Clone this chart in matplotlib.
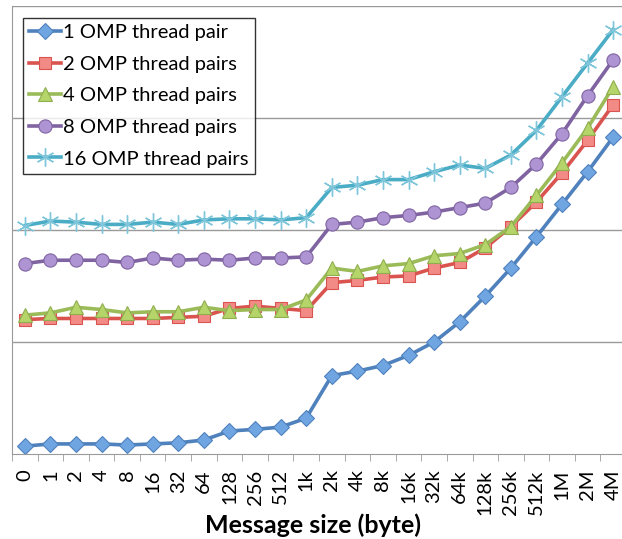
import matplotlib
matplotlib.use('Agg')
import matplotlib.pyplot as plt
import numpy as np

plt.rcParams['font.family'] = ['Lato', 'DejaVu Sans']

sizes = ['0', '1', '2', '4', '8', '16', '32', '64', '128', '256', '512', '1k',
         '2k', '4k', '8k', '16k', '32k', '64k', '128k', '256k', '512k', '1M', '2M', '4M']

# values (no y labels shown, arbitrary units)
pair1 = [0.07, 0.09, 0.09, 0.09, 0.08, 0.09, 0.10, 0.125, 0.205, 0.22, 0.24, 0.32,
         0.70, 0.74, 0.79, 0.88, 1.00, 1.18, 1.41, 1.66, 1.94, 2.23, 2.52, 2.83]
pairs2 = [1.20, 1.21, 1.21, 1.21, 1.21, 1.21, 1.22, 1.23, 1.30, 1.32, 1.30, 1.28,
          1.53, 1.55, 1.58, 1.59, 1.66, 1.71, 1.84, 2.03, 2.25, 2.51, 2.80, 3.12]
pairs4 = [1.24, 1.26, 1.31, 1.29, 1.26, 1.27, 1.27, 1.31, 1.28, 1.29, 1.29, 1.375,
          1.66, 1.63, 1.68, 1.70, 1.77, 1.79, 1.87, 2.03, 2.31, 2.60, 2.91, 3.28]
pairs8 = [1.70, 1.73, 1.73, 1.73, 1.71, 1.75, 1.73, 1.74, 1.73, 1.75, 1.75, 1.76,
          2.05, 2.07, 2.11, 2.13, 2.16, 2.20, 2.24, 2.38, 2.59, 2.86, 3.20, 3.52]
pairs16 = [2.04, 2.08, 2.07, 2.05, 2.05, 2.07, 2.05, 2.09, 2.10, 2.10, 2.09, 2.11,
           2.38, 2.40, 2.45, 2.45, 2.52, 2.58, 2.55, 2.67, 2.89, 3.19, 3.49, 3.79]

labels = ['1 OMP thread pair', '2 OMP thread pairs', '4 OMP thread pairs',
          '8 OMP thread pairs', '16 OMP thread pairs']

fig = plt.figure(figsize=(6.22, 5.39), dpi=100)
ax = fig.add_axes([12 / 622, 85 / 539, 614 / 622, 448 / 539])

x = np.arange(len(sizes))
ax.plot(x, pair1, color='#4F81BD', lw=2.6, marker='D', ms=8.5,
        mfc='#6FA6E2', mec='#4F81BD', mew=0.8, label=labels[0])
ax.plot(x, pairs2, color='#D9534F', lw=2.6, marker='s', ms=8.5,
        mfc='#F28B86', mec='#D9534F', mew=0.8, label=labels[1])
ax.plot(x, pairs4, color='#9BBB59', lw=2.6, marker='^', ms=10,
        mfc='#B5D56A', mec='#8FAE4E', mew=0.8, label=labels[2])
ax.plot(x, pairs8, color='#8064A2', lw=2.6, marker='o', ms=9.5,
        mfc='#AE94D2', mec='#8064A2', mew=0.8, label=labels[3])
ax.plot(x, pairs16, color='#4BACC6', lw=2.6, marker=(6, 2, 0), ms=13,
        mec='#7FC6DA', mew=1.0, label=labels[4])

ax.set_xlim(-0.5, len(sizes) - 0.5)
ax.set_ylim(0, 4)
ax.set_yticks([1, 2, 3, 4])
ax.tick_params(axis='y', length=0, labelleft=False)
ax.yaxis.grid(True, color='#9a9a9a', lw=1.0)
ax.set_axisbelow(True)

ax.set_xticks(x)
ax.set_xticklabels(sizes, rotation=90, fontsize=14.5)
ax.set_xticks(np.arange(-0.5, len(sizes), 1), minor=True)
ax.tick_params(axis='x', which='major', length=0, pad=11)
ax.tick_params(axis='x', which='minor', length=5, color='#9a9a9a', direction='out')

for side in ['top', 'right']:
    ax.spines[side].set_visible(False)
ax.spines['left'].set_color('#9a9a9a')
ax.spines['bottom'].set_color('#9a9a9a')

fig.text(313 / 622, 2 / 539, 'Message size (byte)', fontsize=18,
         fontweight='bold', ha='center', va='bottom')

leg = ax.legend(loc='upper left', bbox_to_anchor=(11 / 614, 1 - 12 / 448),
                fontsize=14.5, frameon=True, fancybox=False, borderpad=0.3,
                handlelength=1.6, handletextpad=0.1, labelspacing=0.72,
                borderaxespad=0)
leg.get_frame().set_edgecolor('black')
leg.get_frame().set_linewidth(1.0)

fig.savefig('out.png', dpi=100)
